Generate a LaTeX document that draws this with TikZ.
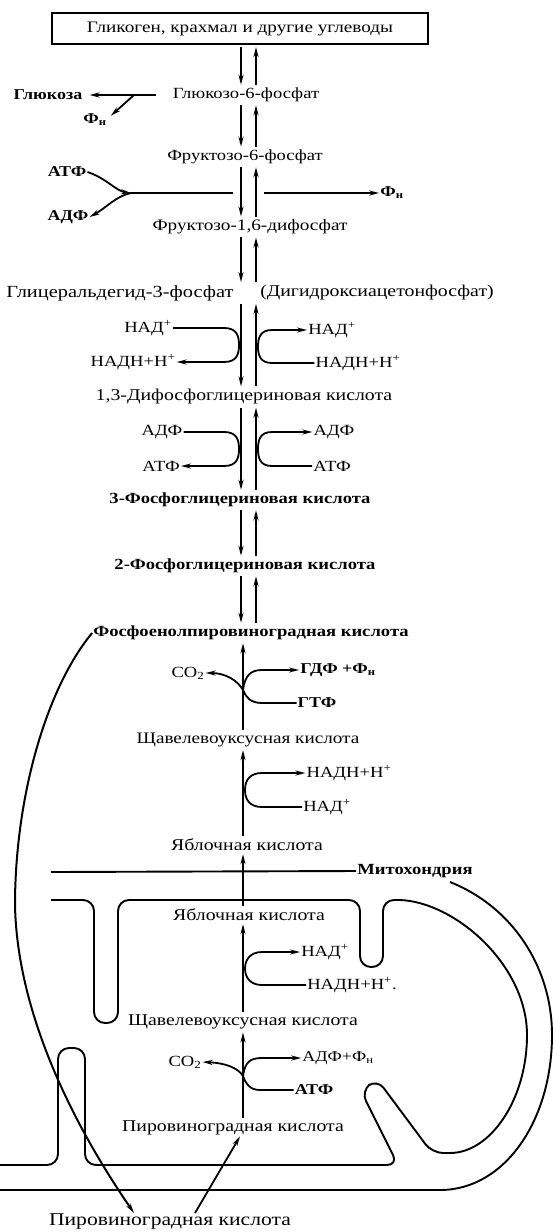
\documentclass[tikz,border=0pt]{standalone}
\usepackage{fontspec}
\setmainfont{Liberation Serif}[FakeStretch=1.2]
\usetikzlibrary{arrows.meta}
\newcommand\fsz[1]{\fontsize{#1}{#1}\selectfont}
\begin{document}
\begin{tikzpicture}[x=1pt,y=-1pt,
  tx/.style={inner sep=1pt, font=\fsz{#1}}, tx/.default=16,
  txb/.style={inner sep=1pt, font=\fsz{#1}\bfseries}, txb/.default=16,
  ar/.style={line width=1.8pt, -{Stealth[length=10pt,width=5pt]}},
  dar/.style={ar, shorten <=2pt, shorten >=2pt},
  ln/.style={line width=1.8pt},
  mem/.style={line width=1.9pt, rounded corners=11pt}]
\path[fill=white, use as bounding box] (0,0) rectangle (553,1232);
\coordinate (D) at (241,0);
\coordinate (U) at (256,0);
\coordinate (A) at (243,0);
% ---- nodes ----
\node[tx=16, draw, line width=2.2pt, minimum width=376pt, minimum height=31pt] (box) at (240,28.5) {Гликоген, крахмал и другие углеводы};
\node[tx=15.5] (g6p) at (246,95) {Глюкозо-6-фосфат};
\node[txb=15] (glc) at (48,95) {Глюкоза};
\node[txb=15] (pi1) at (95,120) {Ф\textsubscript{н}};
\node[tx=15.5] (f6p) at (245,157) {Фруктозо-6-фосфат};
\node[txb=15] (atp1) at (67,172) {АТФ};
\node[txb=15] (adp1) at (68,217) {АДФ};
\node[txb=15] (pi2) at (392,193) {Ф\textsubscript{н}};
\node[tx=16] (fbp) at (250,227) {Фруктозо-1,6-дифосфат};
\node[tx=17] (gap) at (120,293) {Глицеральдегид-3-фосфат};
\node[tx=16.5] (dhap) at (377,293) {(Дигидроксиацетонфосфат)};
\node[tx=15.5] (nadL) at (148,328) {НАД\textsuperscript{+}};
\node[tx=15.5] (nadhL) at (133,362) {НАДН+Н\textsuperscript{+}};
\node[tx=15.5] (nadR) at (332,330) {НАД\textsuperscript{+}};
\node[tx=15.5] (nadhR) at (358,363) {НАДН+Н\textsuperscript{+}};
\node[tx=16.5] (bpg) at (244,397) {1,3-Дифосфоглицериновая кислота};
\node[tx=15.5] (adpL) at (162,432) {АДФ};
\node[tx=15.5] (atpL) at (161,466) {АТФ};
\node[tx=15.5] (adpR) at (334,432) {АДФ};
\node[tx=15.5] (atpR) at (332,466) {АТФ};
\node[txb=15.5] (pg3) at (240,500) {3-Фосфоглицериновая кислота};
\node[txb=15.5] (pg2) at (245,566) {2-Фосфоглицериновая кислота};
\node[txb=15.5] (pep) at (251,633) {Фосфоенолпировиноградная кислота};
\node[tx=15.5] (co2a) at (188,673) {CO\textsubscript{2}};
\node[txb=15] (gdp) at (338,670) {ГДФ +Ф\textsubscript{н}};
\node[txb=15] (gtp) at (317,703) {ГТФ};
\node[tx=16] (oaa1) at (248,740) {Щавелевоуксусная кислота};
\node[tx=15.5] (nadh2) at (349,773) {НАДН+Н\textsuperscript{+}};
\node[tx=15.5] (nad2) at (327,807) {НАД\textsuperscript{+}};
\node[tx=16.5] (mal1) at (247,845) {Яблочная кислота};
\node[txb=15.5] (mito) at (415,871) {Митохондрия};
\node[tx=16.5] (mal2) at (249,915) {Яблочная кислота};
\node[tx=15.5] (nad3) at (325,952) {НАД\textsuperscript{+}};
\node[tx=15.5] (nadh3) at (352,985) {НАДН+Н\textsuperscript{+}.};
\node[tx=16.5] (oaa2) at (243,1022) {Щавелевоуксусная кислота};
\node[tx=15.5] (co2b) at (185,1062) {CO\textsubscript{2}};
\node[tx=15] (adppi) at (338,1058) {АДФ+Ф\textsubscript{н}};
\node[txb=15] (atp3) at (314,1090) {АТФ};
\node[tx=16.5] (pyr2) at (233,1128) {Пировиноградная кислота};
\node[tx=18] (pyr1) at (170,1222) {Пировиноградная кислота};
% ---- membranes ----
\draw[ln, line width=1.9pt] (51,872) -- (mito.west);
\draw[ln, line width=1.9pt] (0,1190) -- (440,1190) .. controls (505,1190) and (552,1120) .. (552,1035) .. controls (552,968) and (513,907) .. (450,882);
\draw[mem] (51,900) -- (94,900) -- (94,1023) -- (118,1023) -- (118,900) -- (360,900) -- (360,967) -- (383,967) -- (383,900) -- (400,900);
\draw[ln, line width=1.9pt] (400,900) .. controls (455,902) and (527,965) .. (527,1035) .. controls (527,1100) and (490,1153) .. (450,1153);
\draw[mem] (450,1153) -- (432,1153) -- (377,1079) -- (361,1091) -- (398,1165) -- (85,1165) -- (85,1048) -- (58,1048) -- (58,1165) -- (0,1165);
% ---- glycolysis double arrows ----
\foreach \a/\b in {box/g6p, g6p/f6p, f6p/fbp, fbp/gap, gap/bpg, bpg/pg3, pg3/pg2, pg2/pep}{
  \draw[dar] (\a.south -| D) -- (\b.north -| D);
  \draw[dar] (\b.north -| U) -- (\a.south -| U);
}
% ---- single upward arrows ----
\draw[dar] (oaa1.north -| A) -- (pep.south -| A);
\draw[dar] (mal1.north -| A) -- (oaa1.south -| A);
\draw[dar] (mal2.north -| A) -- (mal1.south -| A);
\draw[dar] (oaa2.north -| A) -- (mal2.south -| A);
\draw[dar] (pyr2.north -| A) -- (oaa2.south -| A);
% ---- glucose branch ----
\coordinate (j0) at (134,95);
\draw[ar, shorten <=16pt, shorten >=6pt] (g6p.west) -- (glc.east);
\draw[ar] (j0) -- ([shift={(3,3)}]pi1.north east);
% ---- fructose branch ----
\coordinate (j2) at (131,193);
\coordinate (j3) at (264,193);
\draw[ar] (atp1.east) .. controls (106,178) and (116,191) .. (j2);
\draw[ar] (j2) .. controls (116,196) and (106,208) .. (adp1.east);
\draw[ln] (j2) -- (233,193);
\draw[ar] (j3) -- (pi2.west);
% ---- NAD at GAP ----
\draw[ar] (nadL.east) -- (224,328) .. controls (237,328) and (239,336) .. (239,345) .. controls (239,354) and (237,362) .. (224,362) -- (nadhL.east);
\draw[ar] (nadhR.west) -- (272,363) .. controls (260,363) and (258,355) .. (258,346.5) .. controls (258,338) and (260,330) .. (272,330) -- (nadR.west);
% ---- ADP/ATP at BPG ----
\draw[ar] (adpL.east) -- (224,432) .. controls (237,432) and (239,440) .. (239,449) .. controls (239,458) and (237,466) .. (224,466) -- (atpL.east);
\draw[ar] (atpR.west) -- (272,466) .. controls (260,466) and (258,458) .. (258,449) .. controls (258,440) and (260,432) .. (272,432) -- (adpR.west);
% ---- PEP carboxykinase ----
\coordinate (j4) at (243,690);
\draw[ar] (gtp.west) -- (262,703) .. controls (250,703) and (246,697) .. (j4) .. controls (238,681) and (226,673) .. (co2a.east);
\draw[ar] (j4) .. controls (245,676) and (250,670) .. (262,670) -- (gdp.west);
% ---- MDH outside ----
\draw[ar] (nad2.west) -- (262,807) .. controls (250,807) and (245,800) .. (245,790) .. controls (245,780) and (250,773) .. (262,773) -- (nadh2.west);
% ---- MDH inside ----
\draw[ar] (nadh3.west) -- (262,985) .. controls (250,985) and (245,977) .. (245,968.5) .. controls (245,960) and (250,952) .. (262,952) -- (nad3.west);
% ---- pyruvate carboxylase ----
\coordinate (j5) at (243,1076);
\draw[ar] (atp3.west) -- (260,1090) .. controls (250,1090) and (246,1084) .. (j5) .. controls (238,1068) and (226,1063) .. (co2b.east);
\draw[ar] (j5) .. controls (245,1062) and (250,1058) .. (262,1058) -- (adppi.west);
% ---- transport arrows ----
\coordinate (m1) at (15,905);
\draw[ar, line width=2pt] (pep.west) .. controls (45,690) and (15,800) .. (m1) .. controls (17,1010) and (70,1120) .. ([xshift=-36pt]pyr1.north);
\draw[ar] ([xshift=25pt]pyr1.north) -- ([xshift=7pt]pyr2.south);
\end{tikzpicture}
\end{document}
